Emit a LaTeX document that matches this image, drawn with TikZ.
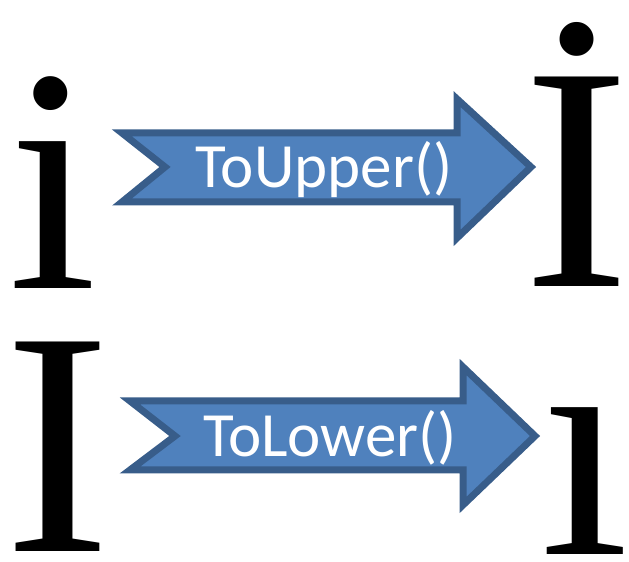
\documentclass[tikz,border=0pt]{standalone}
\usepackage{fontspec}
\setmainfont{Liberation Serif}
\newfontfamily\lblfont{Carlito}
\definecolor{arrfill}{HTML}{4F81BD}
\definecolor{arrline}{HTML}{385D8A}
\begin{document}
\begin{tikzpicture}[x=1pt,y=1pt,
  glyph/.style={inner sep=0pt,anchor=base,font=\fontsize{320}{320}\selectfont},
  lbl/.style={inner sep=0pt,anchor=base,text=white,font=\lblfont\fontsize{63}{63}\selectfont},
  blockarrow/.style={fill=arrfill,draw=arrline,line width=7pt,line join=miter}]
\useasboundingbox (0,0) rectangle (629,562);
% top row
\node[glyph] (lowi) at (53,273) {i};
\node[glyph] (capIdot) at (577,275) {İ};
\draw[blockarrow] (122,429) -- (457,429) -- (457,463) -- (531,395) -- (457,324) -- (457,360) -- (122,360) -- (165,395) -- cycle;
\node[lbl] (up) at (324,374) {ToUpper()};
% bottom row
\node[glyph] (capI) at (58,10) {I};
\node[glyph] (dotless) at (585,7) {ı};
\draw[blockarrow] (130,161) -- (463,161) -- (463,195) -- (535,126) -- (463,57) -- (463,92) -- (130,92) -- (175,126) -- cycle;
\node[lbl] (low) at (330,105) {ToLower()};
\end{tikzpicture}
\end{document}
